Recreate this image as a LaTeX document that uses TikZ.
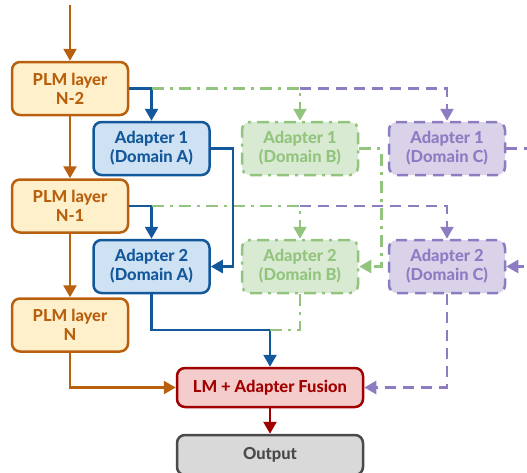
\documentclass[tikz,border=0pt]{standalone}
\usepackage{fontspec}
\setmainfont{Lato}[BoldFont={Lato Heavy}]
\usetikzlibrary{arrows.meta}
\definecolor{plmc}{HTML}{B8600E}
\definecolor{plmfill}{HTML}{FFF0CC}
\definecolor{adac}{HTML}{13589A}
\definecolor{adafill}{HTML}{CFE2F3}
\definecolor{adbc}{HTML}{93C47D}
\definecolor{adbfill}{HTML}{D9EAD3}
\definecolor{adcc}{HTML}{8E7CC3}
\definecolor{adcfill}{HTML}{D9D2E9}
\definecolor{fusc}{HTML}{A00000}
\definecolor{fusfill}{HTML}{F4CCCC}
\definecolor{outc}{HTML}{4A4A4A}
\definecolor{outfill}{HTML}{D9D9D9}
\tikzset{
  box/.style={rounded corners=8pt, minimum width=116pt, minimum height=53pt,
    align=center, line width=2.5pt, inner sep=0pt,
    font=\bfseries\fontsize{16.5}{19}\selectfont},
  plm/.style={box, draw=plmc, fill=plmfill, text=plmc},
  adA/.style={box, draw=adac, fill=adafill, text=adac},
  adB/.style={box, draw=adbc, fill=adbfill, text=adbc, dash pattern=on 12pt off 6pt on 3pt off 6pt},
  adC/.style={box, draw=adcc, fill=adcfill, text=adcc, dash pattern=on 11pt off 7pt},
  fusbox/.style={box, minimum width=186pt, minimum height=39pt, draw=fusc, fill=fusfill, text=fusc},
  outbox/.style={box, minimum width=186pt, minimum height=40pt, draw=outc, fill=outfill, text=outc},
  link/.style={line width=2.5pt, -{Triangle[length=12pt,width=13pt]}},
  oarr/.style={link, draw=plmc},
  barr/.style={link, draw=adac},
  garr/.style={link, draw=adbc, dash pattern=on 12pt off 6pt on 3pt off 6pt},
  parr/.style={link, draw=adcc, dash pattern=on 11pt off 7pt},
  rarr/.style={link, draw=fusc},
}
\begin{document}
\begin{tikzpicture}[x=1pt,y=-1pt]
\useasboundingbox (0,0) rectangle (527,472);
% PLM layers
\node[plm] (n2) at (70,88.5) {PLM layer\\N-2};
\node[plm] (n1) at (70,206) {PLM layer\\N-1};
\node[plm] (n0) at (70,325) {PLM layer\\N};
% adapters
\node[adA] (a1A) at (151.5,148.5) {Adapter 1\\(Domain A)};
\node[adA] (a2A) at (151.5,266.5) {Adapter 2\\(Domain A)};
\node[adB] (a1B) at (300,148.5) {Adapter 1\\(Domain B)};
\node[adB] (a2B) at (300,266.5) {Adapter 2\\(Domain B)};
\node[adC] (a1C) at (447,148.5) {Adapter 1\\(Domain C)};
\node[adC] (a2C) at (447,266.5) {Adapter 2\\(Domain C)};
% fusion and output
\node[fusbox] (fus) at (270,387.5) {LM + Adapter Fusion};
\node[outbox] (out) at (270,455) {Output};
\coordinate (in) at (70,5);
\coordinate (j) at (270,330);
% backbone
\draw[oarr] (in) -- (n2);
\draw[oarr] (n2) -- (n1);
\draw[oarr] (n1) -- (n0);
\draw[oarr] (n0) |- (fus);
% layer outputs into adapters
\draw[barr] (n2.east) -| (a1A);
\draw[garr] (n2.east -| a1A) -| (a1B);
\draw[parr] (n2.east -| a1B) -| (a1C);
\draw[barr] (n1.east) -| (a2A);
\draw[garr] (n1.east -| a2A) -| (a2B);
\draw[parr] (n1.east -| a2B) -| (a2C);
% adapter 1 to adapter 2
\draw[barr] (a1A.east) -- ++(22,0) |- (a2A);
\draw[garr] (a1B.east) -- ++(22,0) |- (a2B);
\draw[parr] (a1C.east) -- ++(22,0) |- (a2C);
% into fusion
\draw[barr] (a2A) |- (j) -- (fus);
\draw[line width=2.5pt, draw=adbc, dash pattern=on 12pt off 6pt on 3pt off 6pt] (a2B) |- (j);
\draw[parr] (a2C) |- (fus);
\draw[rarr] (fus) -- (out);
\end{tikzpicture}
\end{document}
